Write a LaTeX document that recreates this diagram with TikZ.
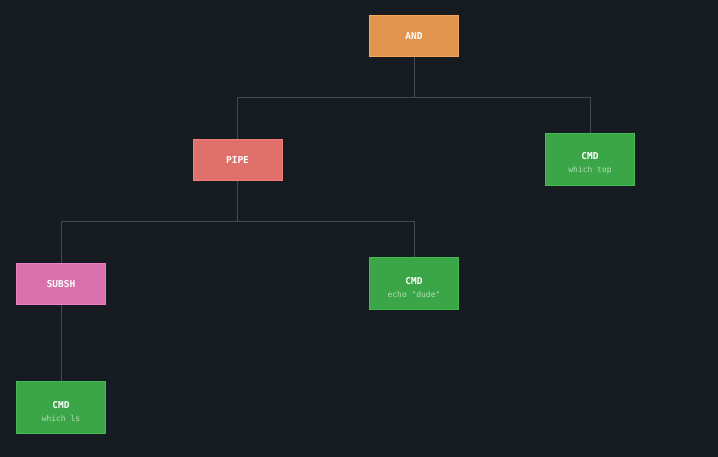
\documentclass[tikz,border=0pt]{standalone}
\usepackage{fontspec}
\setmonofont{DejaVu Sans Mono}
\definecolor{bgdark}{HTML}{161A21}
\definecolor{linkgray}{HTML}{454A52}
\definecolor{andfill}{HTML}{E0954F}
\definecolor{anddraw}{HTML}{F5A458}
\definecolor{pipefill}{HTML}{E0706A}
\definecolor{pipedraw}{HTML}{F57E74}
\definecolor{cmdfill}{HTML}{3BA648}
\definecolor{cmddraw}{HTML}{46B953}
\definecolor{subfill}{HTML}{D870AC}
\definecolor{subdraw}{HTML}{F07CC2}
\definecolor{argtext}{HTML}{B5DDB5}
\tikzset{
  opbox/.style={draw, line width=1bp, minimum width=89bp, minimum height=41bp,
    inner sep=0pt, text=white,
    font=\ttfamily\bfseries\fontsize{9.5}{11}\selectfont, align=center},
  cmdbox/.style={opbox, fill=cmdfill, draw=cmddraw, minimum height=52bp},
  link/.style={draw=linkgray, line width=1bp},
}
\newcommand{\cmdarg}[1]{\\[1.5bp]{\mdseries\color{argtext}\fontsize{8}{9}\selectfont #1}}
\begin{document}
\begin{tikzpicture}[x=1bp, y=-1bp]
  \fill[bgdark] (0,0) rectangle (718,457);
  \useasboundingbox (0,0) rectangle (718,457);

  \coordinate (jand) at (414,98);
  \coordinate (jpipe) at (237.5,222);

  \node[opbox, fill=andfill, draw=anddraw] (and) at (414,36.5) {AND};
  \node[opbox, fill=pipefill, draw=pipedraw] (pipe) at (237.5,160.5) {PIPE};
  \node[cmdbox] (cmdtop) at (590,159.5) {\rule{0pt}{15bp}CMD\cmdarg{which top}};
  \node[opbox, fill=subfill, draw=subdraw] (subsh) at (61,284.5) {SUBSH};
  \node[cmdbox] (cmddude) at (414,283.5) {\rule{0pt}{15bp}CMD\cmdarg{echo "dude"}};
  \node[cmdbox] (cmdls) at (61,407.5) {\rule{0pt}{15bp}CMD\cmdarg{which ls}};

  \draw[link] (and) -- (jand);
  \draw[link] (jand) -| (pipe);
  \draw[link] (jand) -| (cmdtop);
  \draw[link] (pipe) -- (jpipe);
  \draw[link] (jpipe) -| (subsh);
  \draw[link] (jpipe) -| (cmddude);
  \draw[link] (subsh) -- (cmdls);
\end{tikzpicture}
\end{document}
